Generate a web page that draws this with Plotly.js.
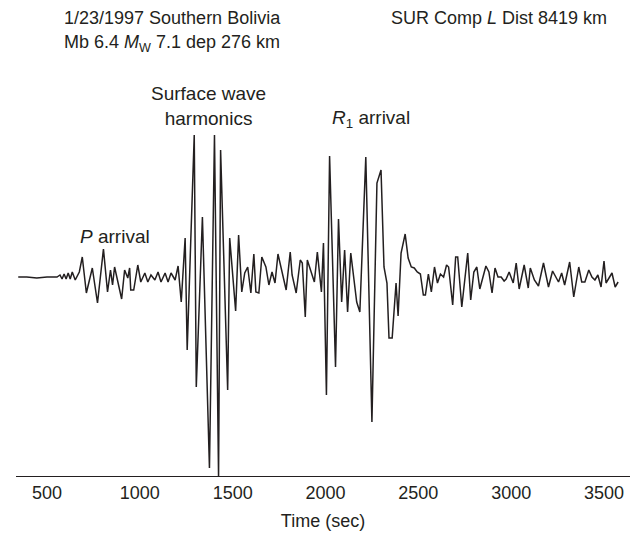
<!DOCTYPE html>
<html>
<head>
<meta charset="utf-8">
<script src="https://cdn.plot.ly/plotly-3.0.1.min.js"></script>
<style>html,body{margin:0;padding:0;background:#fff;}#chart{width:640px;height:536px;}</style>
</head>
<body>
<div id="chart"></div>
<script>
// Time (sec) of each sample
const timeSec = [345,391,445,500,554,570,581,592,603,614,625,636,652,663,674,690,712,744,772,804,826,842,853,864,902,918,935,945,951,967,989,1005,1027,1043,1060,1081,1098,1114,1136,1152,1168,1190,1206,1223,1244,1255,1293,1304,1337,1375,1402,1424,1435,1473,1484,1516,1532,1549,1565,1581,1598,1614,1625,1641,1657,1679,1695,1712,1728,1744,1766,1788,1810,1820,1842,1864,1875,1891,1902,1924,1940,1956,1978,1989,2005,2022,2054,2070,2087,2103,2119,2136,2168,2185,2217,2250,2277,2299,2315,2331,2342,2359,2380,2391,2407,2429,2445,2462,2478,2494,2511,2527,2538,2554,2570,2587,2603,2619,2636,2652,2663,2685,2701,2712,2734,2766,2782,2799,2815,2831,2864,2880,2897,2913,2929,2946,2962,2973,2989,3011,3027,3043,3070,3092,3103,3125,3147,3174,3201,3223,3234,3255,3272,3288,3315,3337,3364,3380,3397,3418,3435,3451,3467,3484,3500,3511,3543,3560,3576];
// Ground displacement amplitude (relative units)
const amplitude = [-1,-1,-2,-1,-1,1,-3,2,-3,3,-3,4,-4,0,4,19,-17,8,-27,27,-16,6,-9,9,-23,6,-2,8,-14,-14,11,-6,3,-6,1,-4,4,-6,3,-6,3,-4,10,-26,38,-74,141,-111,59,-192,141,-201,126,-114,38,-35,41,-16,3,9,-17,22,-16,-17,19,9,-9,4,-7,22,4,-14,24,1,-17,16,13,-41,16,4,-6,24,-16,33,-119,120,-91,57,-26,26,-36,23,-26,-36,119,-146,93,106,9,-7,-62,-62,-7,-40,23,42,18,9,8,4,2,-19,-19,2,-16,9,-7,2,-1,11,9,-29,19,19,-31,23,-24,4,9,-13,10,4,-17,8,-1,-1,-5,-3,4,-7,13,-13,11,-12,8,-4,-10,13,-11,5,1,-6,3,-9,14,-21,9,-6,-6,6,-1,-4,1,-11,15,-7,3,-11,-6];
const tickVals = [500,1000,1500,2000,2500,3000,3500];
const tickText = ['500','1000','1500','2000','2500','3000','3500'];

const ink = '#231f20';
const fam = 'Liberation Sans, Arial, Helvetica, sans-serif';
const fAxis = {family: fam, size: 18, color: ink};
const fHead = {family: fam, size: 18, color: ink};
const fLab = {family: fam, size: 19, color: ink};

const trace = {
  x: timeSec, y: amplitude, type: 'scatter', mode: 'lines',
  line: {color: ink, width: 1.5}, hoverinfo: 'skip'
};

const layout = {
  width: 640, height: 536,
  margin: {l: 16, r: 10, t: 126, b: 60},
  paper_bgcolor: '#fff', plot_bgcolor: '#fff',
  showlegend: false,
  font: fAxis,
  xaxis: {
    range: [333, 3640], showline: true, linecolor: ink, linewidth: 1,
    showgrid: false, zeroline: false, ticks: '',
    tickvals: tickVals, ticktext: tickText, tickfont: fAxis,
    title: {text: 'Time (sec)', font: fAxis, standoff: 12}
  },
  yaxis: {range: [-200, 150], visible: false, fixedrange: true},
  annotations: [
    {xref: 'paper', yref: 'paper', x: 0.0749, y: 1.3086, xanchor: 'left', yanchor: 'middle', showarrow: false,
     text: '1/23/1997 Southern Bolivia', font: fHead},
    {xref: 'paper', yref: 'paper', x: 0.0749, y: 1.237, xanchor: 'left', yanchor: 'middle', showarrow: false,
     text: 'Mb 6.4 <i>M</i><sub>W</sub> 7.1 dep 276 km', font: fHead},
    {xref: 'paper', yref: 'paper', x: 0.9658, y: 1.3086, xanchor: 'right', yanchor: 'middle', showarrow: false,
     text: 'SUR Comp <i>L</i> Dist 8419 km', font: fHead},
    {xref: 'paper', yref: 'paper', x: 0.313, y: 1.057, xanchor: 'center', yanchor: 'middle', showarrow: false,
     text: 'Surface wave<br>harmonics', font: fLab},
    {xref: 'paper', yref: 'paper', x: 0.5114, y: 1.02, xanchor: 'left', yanchor: 'middle', showarrow: false,
     text: '<i>R</i><sub>1</sub> arrival', font: fLab},
    {xref: 'paper', yref: 'paper', x: 0.101, y: 0.683, xanchor: 'left', yanchor: 'middle', showarrow: false,
     text: '<i>P</i> arrival', font: fLab}
  ]
};

Plotly.newPlot('chart', [trace], layout, {staticPlot: true, displayModeBar: false});
</script>
</body>
</html>
